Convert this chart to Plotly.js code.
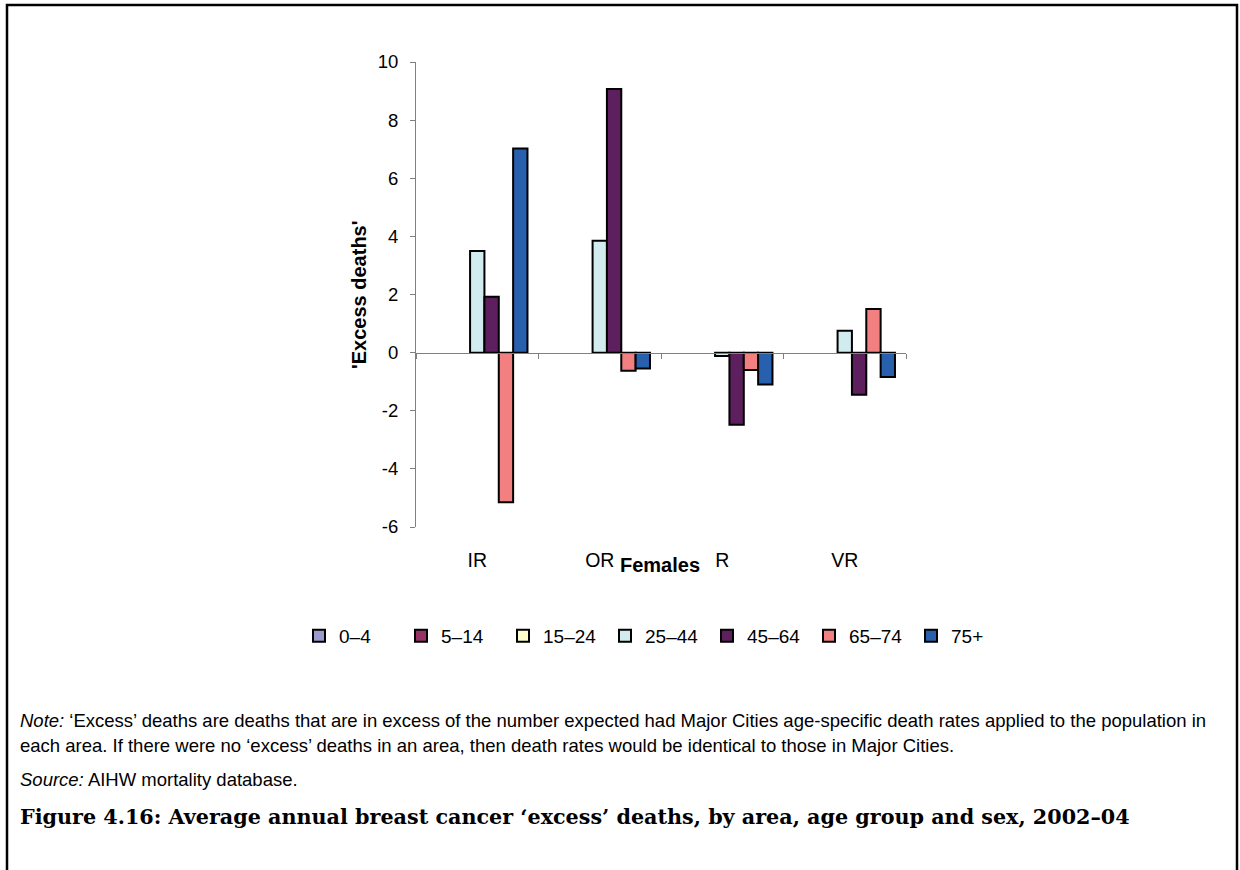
<!DOCTYPE html>
<html>
<head>
<meta charset="utf-8">
<script src="https://cdn.plot.ly/plotly-3.0.1.min.js"></script>
<style>
  body { margin: 0; background: #fff; }
  #chart { width: 1240px; height: 870px; }
</style>
</head>
<body>
<div id="chart"></div>
<script>
var areas = ["IR", "OR", "R", "VR"];
var ageGroups = ["0–4", "5–14", "15–24", "25–44", "45–64", "65–74", "75+"];
var colors = ["#9A9ACD", "#953365", "#FFFFCC", "#D2EBEF", "#5E1F5E", "#F28080", "#2960AE"];
var yTickVals = [-6, -4, -2, 0, 2, 4, 6, 8, 10];
var yTickText = ["-6", "-4", "-2", "0", "2", "4", "6", "8", "10"];

// 'excess' deaths per area, one array per age group (null = no bar drawn)
var age0_4 = [null, null, null, null];
var age5_14 = [null, null, null, null];
var age15_24 = [null, null, null, null];
var age25_44 = [3.5, 3.85, -0.12, 0.75];
var age45_64 = [1.92, 9.07, -2.48, -1.45];
var age65_74 = [-5.15, -0.62, -0.6, 1.5];
var age75plus = [7.02, -0.55, -1.1, -0.84];

var seriesValues = [age0_4, age5_14, age15_24, age25_44, age45_64, age65_74, age75plus];

// plot area in page pixels
var L = 416, R = 906, T = 62, B = 527;
function px(x) { return (x - L) / (R - L); }
function py(y) { return (B - y) / (B - T); }

var data = [];
for (let i = 0; i < ageGroups.length; i++) {
    data.push({
        x: areas,
        y: seriesValues[i],
        name: ageGroups[i],
        type: "bar",
        marker: {color: colors[i], line: {color: "#000", width: 2}},
        hoverinfo: "skip"
    });
}
// axis only used for the category labels at the bottom
data.push({x: areas, y: [null, null, null, null], xaxis: "x2", type: "bar", showlegend: false, hoverinfo: "skip"});

var font = "Liberation Sans, Arial, sans-serif";

function textLine(txt, x, y, size) {
    return {text: txt, xref: "paper", yref: "paper", x: px(x), y: py(y), xanchor: "left", yanchor: "middle",
            align: "left", showarrow: false, font: {size: size, family: font}};
}

var layout = {
    width: 1240,
    height: 870,
    margin: {l: L, r: 1240 - R, t: T, b: 870 - B},
    paper_bgcolor: "#fff",
    plot_bgcolor: "rgba(0,0,0,0)",
    barmode: "group",
    bargap: 0.18,
    bargroupgap: 0,
    showlegend: true,
    font: {family: font, color: "#000", size: 18},
    xaxis: {
        type: "category",
        categoryarray: areas,
        anchor: "free",
        position: py(352.7),
        showline: true,
        linecolor: "#808080",
        linewidth: 1,
        ticks: "outside",
        tickson: "boundaries",
        ticklen: 5,
        tickcolor: "#808080",
        showticklabels: false,
        showgrid: false,
        zeroline: false
    },
    xaxis2: {
        type: "category",
        categoryarray: areas,
        overlaying: "x",
        matches: "x",
        anchor: "y",
        side: "bottom",
        showline: false,
        ticks: "",
        showgrid: false,
        tickfont: {size: 19.5, family: font},
        ticklabelstandoff: 19
    },
    yaxis: {
        range: [-6, 10],
        tickmode: "array",
        tickvals: yTickVals,
        ticktext: yTickText,
        showline: true,
        linecolor: "#808080",
        linewidth: 1,
        ticks: "outside",
        ticklen: 5,
        tickcolor: "#808080",
        showgrid: false,
        zeroline: false,
        tickfont: {size: 18.5, family: font},
        ticklabelstandoff: 8
    },
    legend: {
        orientation: "h",
        x: px(299),
        xanchor: "left",
        y: py(636),
        yanchor: "middle",
        font: {size: 19, family: font},
        entrywidth: 57,
        entrywidthmode: "pixels",
        traceorder: "normal",
        bgcolor: "rgba(0,0,0,0)"
    },
    annotations: [
        {text: "<b>'Excess deaths'</b>", xref: "paper", yref: "paper", x: px(346), y: py(295),
         textangle: -90, showarrow: false, font: {size: 20, family: font}},
        {text: "<b>Females</b>", xref: "paper", yref: "paper", x: px(660), y: py(578),
         showarrow: false, font: {size: 20, family: font}},
        textLine("<i>Note:</i> ‘Excess’ deaths are deaths that are in excess of the number expected had Major Cities age-specific death rates applied to the population in", 18, 720, 18.5),
        textLine("each area. If there were no ‘excess’ deaths in an area, then death rates would be identical to those in Major Cities.", 18, 745, 18.5),
        textLine("<i>Source:</i> AIHW mortality database.", 18, 780, 18.5),
        {text: "<b>Figure 4.16: Average annual breast cancer ‘excess’ deaths, by area, age group and sex, 2002–04</b>",
         xref: "paper", yref: "paper", x: px(18), y: py(817), xanchor: "left", yanchor: "middle", align: "left",
         showarrow: false, font: {size: 20.7, family: "DejaVu Serif, serif"}}
    ],
    shapes: [
        {type: "path", xref: "paper", yref: "paper",
         path: "M" + px(7) + "," + py(880) + " L" + px(7) + "," + py(5) + " L" + px(1237) + "," + py(5) + " L" + px(1237) + "," + py(880),
         line: {color: "#000", width: 2.5}}
    ]
};

Plotly.newPlot("chart", data, layout, {displayModeBar: false, staticPlot: true});
</script>
</body>
</html>
